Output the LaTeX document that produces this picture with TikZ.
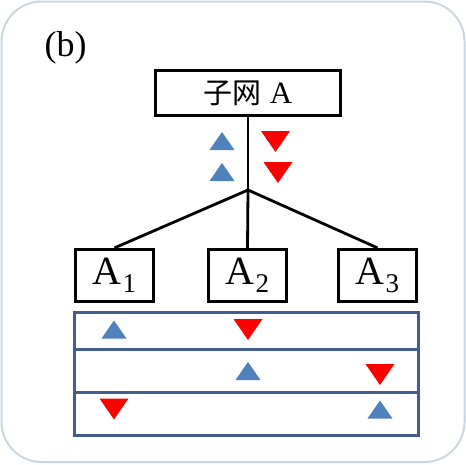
\documentclass[tikz,border=0pt]{standalone}
\usepackage{fontspec}
\setmainfont{Liberation Serif}
\newfontfamily\cjkfont{Noto Sans CJK SC}
\usetikzlibrary{positioning}
\definecolor{framegray}{RGB}{202,214,226}
\definecolor{tableblue}{RGB}{65,95,140}
\definecolor{upblue}{RGB}{79,129,189}
\definecolor{downred}{RGB}{255,0,0}
\tikzset{
  netbox/.style={draw, line width=3.2pt, inner sep=0pt},
  subbox/.style={netbox, minimum width=78pt, minimum height=52pt},
  link/.style={line width=2.8pt},
  rowline/.style={tableblue, line width=3pt},
  pics/upmark/.style={code={\fill[upblue] (-12.5,9) -- (12.5,9) -- (0,-9) -- cycle;}},
  pics/downmark/.style={code={\fill[downred] (-14.5,-10.5) -- (14.5,-10.5) -- (0,10.5) -- cycle;}},
}
\newcommand{\subA}[1]{\fontsize{40}{40}\selectfont A\kern1pt\raisebox{-8pt}{\fontsize{27}{27}\selectfont #1}}
\begin{document}
\begin{tikzpicture}[x=1pt, y=-1pt]
  \useasboundingbox (0,0) rectangle (466,464);
  % frame
  \draw[framegray, line width=2pt, rounded corners=40pt] (1.5,1.5) rectangle (464.5,462);
  \node (label) at (65.5,48) {\fontsize{36}{36}\selectfont (b)};

  % subnet and its three parts
  \node[netbox, minimum width=185pt, minimum height=45pt] (netA) at (248,93)
    {{\fontsize{29}{29}\selectfont\cjkfont 子网}\hspace{8pt}{\fontsize{31}{31}\selectfont A}};
  \coordinate (split) at (248,190);
  \node[subbox] (A1) at (114.5,275.5) {\subA{1}};
  \node[subbox] (A2) at (247.5,275.5) {\subA{2}};
  \node[subbox] (A3) at (377.5,275.5) {\subA{3}};

  \draw[link] (netA.south) -- (split);
  \draw[link] (split) -- (A1.north);
  \draw[link] (split) -- (A2.north);
  \draw[link] (split) -- (A3.north);

  % marks on the trunk
  \pic at (222,141) {upmark};
  \pic at (222,172) {upmark};
  \pic at (275.5,141.5) {downmark};
  \pic at (278,172.5) {downmark};

  % table of three rows
  \draw[rowline] (74,312) rectangle (418,435);
  \draw[rowline] (74,349) -- (418,349);
  \draw[rowline] (74,392) -- (418,392);

  \pic at (114,329.5) {upmark};
  \pic at (248,329.5) {downmark};
  \pic at (248,371) {upmark};
  \pic at (380,374.5) {downmark};
  \pic at (114,409) {downmark};
  \pic at (380,409.5) {upmark};
\end{tikzpicture}
\end{document}
